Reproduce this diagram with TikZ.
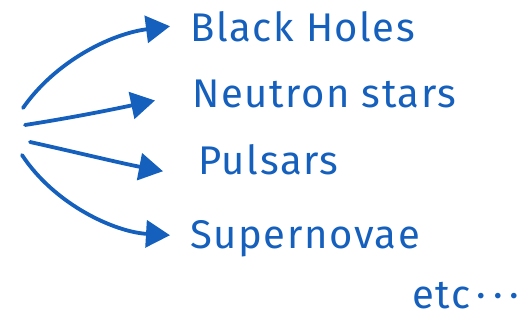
\documentclass[tikz,border=0pt]{standalone}
\usepackage{fontspec}
\setmainfont{Fira Sans}[LetterSpace=4]
\usetikzlibrary{arrows.meta}
\definecolor{ink}{HTML}{1560BD}
\begin{document}
\begin{tikzpicture}[x=1pt,y=-1pt,
  lbl/.style={anchor=base west,inner sep=0pt,text=ink,font=\fontsize{40}{44}\selectfont},
  arr/.style={draw=ink,line width=3.8pt,line cap=round,-{Triangle[length=24pt,width=27pt]}}]
\useasboundingbox (0,0) rectangle (531,320);
\node[lbl] (bh) at (190,42) {Black Holes};
\node[lbl] (ns) at (192,108) {Neutron stars};
\node[lbl] (pu) at (198,175) {Pulsars};
\node[lbl] (sn) at (190,249) {Supernovae};
\node[lbl] (etc) at (412,309) {etc\,\textperiodcentered\,\textperiodcentered\,\textperiodcentered};
\coordinate (s1) at (23,108);
\coordinate (s2) at (25,125);
\coordinate (s3) at (30,142);
\coordinate (s4) at (22,155);
\draw[arr] (s1) .. controls (55,62) and (110,34) .. ([xshift=-20pt,yshift=1pt]bh.west);
\draw[arr] (s2) .. controls (70,118) and (110,110) .. ([xshift=-37pt,yshift=-6pt]ns.west);
\draw[arr] (s3) .. controls (75,152) and (120,163) .. ([xshift=-35pt,yshift=-11pt]pu.west);
\draw[arr] (s4) .. controls (55,205) and (115,232) .. ([xshift=-20pt,yshift=4pt]sn.west);
\end{tikzpicture}
\end{document}
